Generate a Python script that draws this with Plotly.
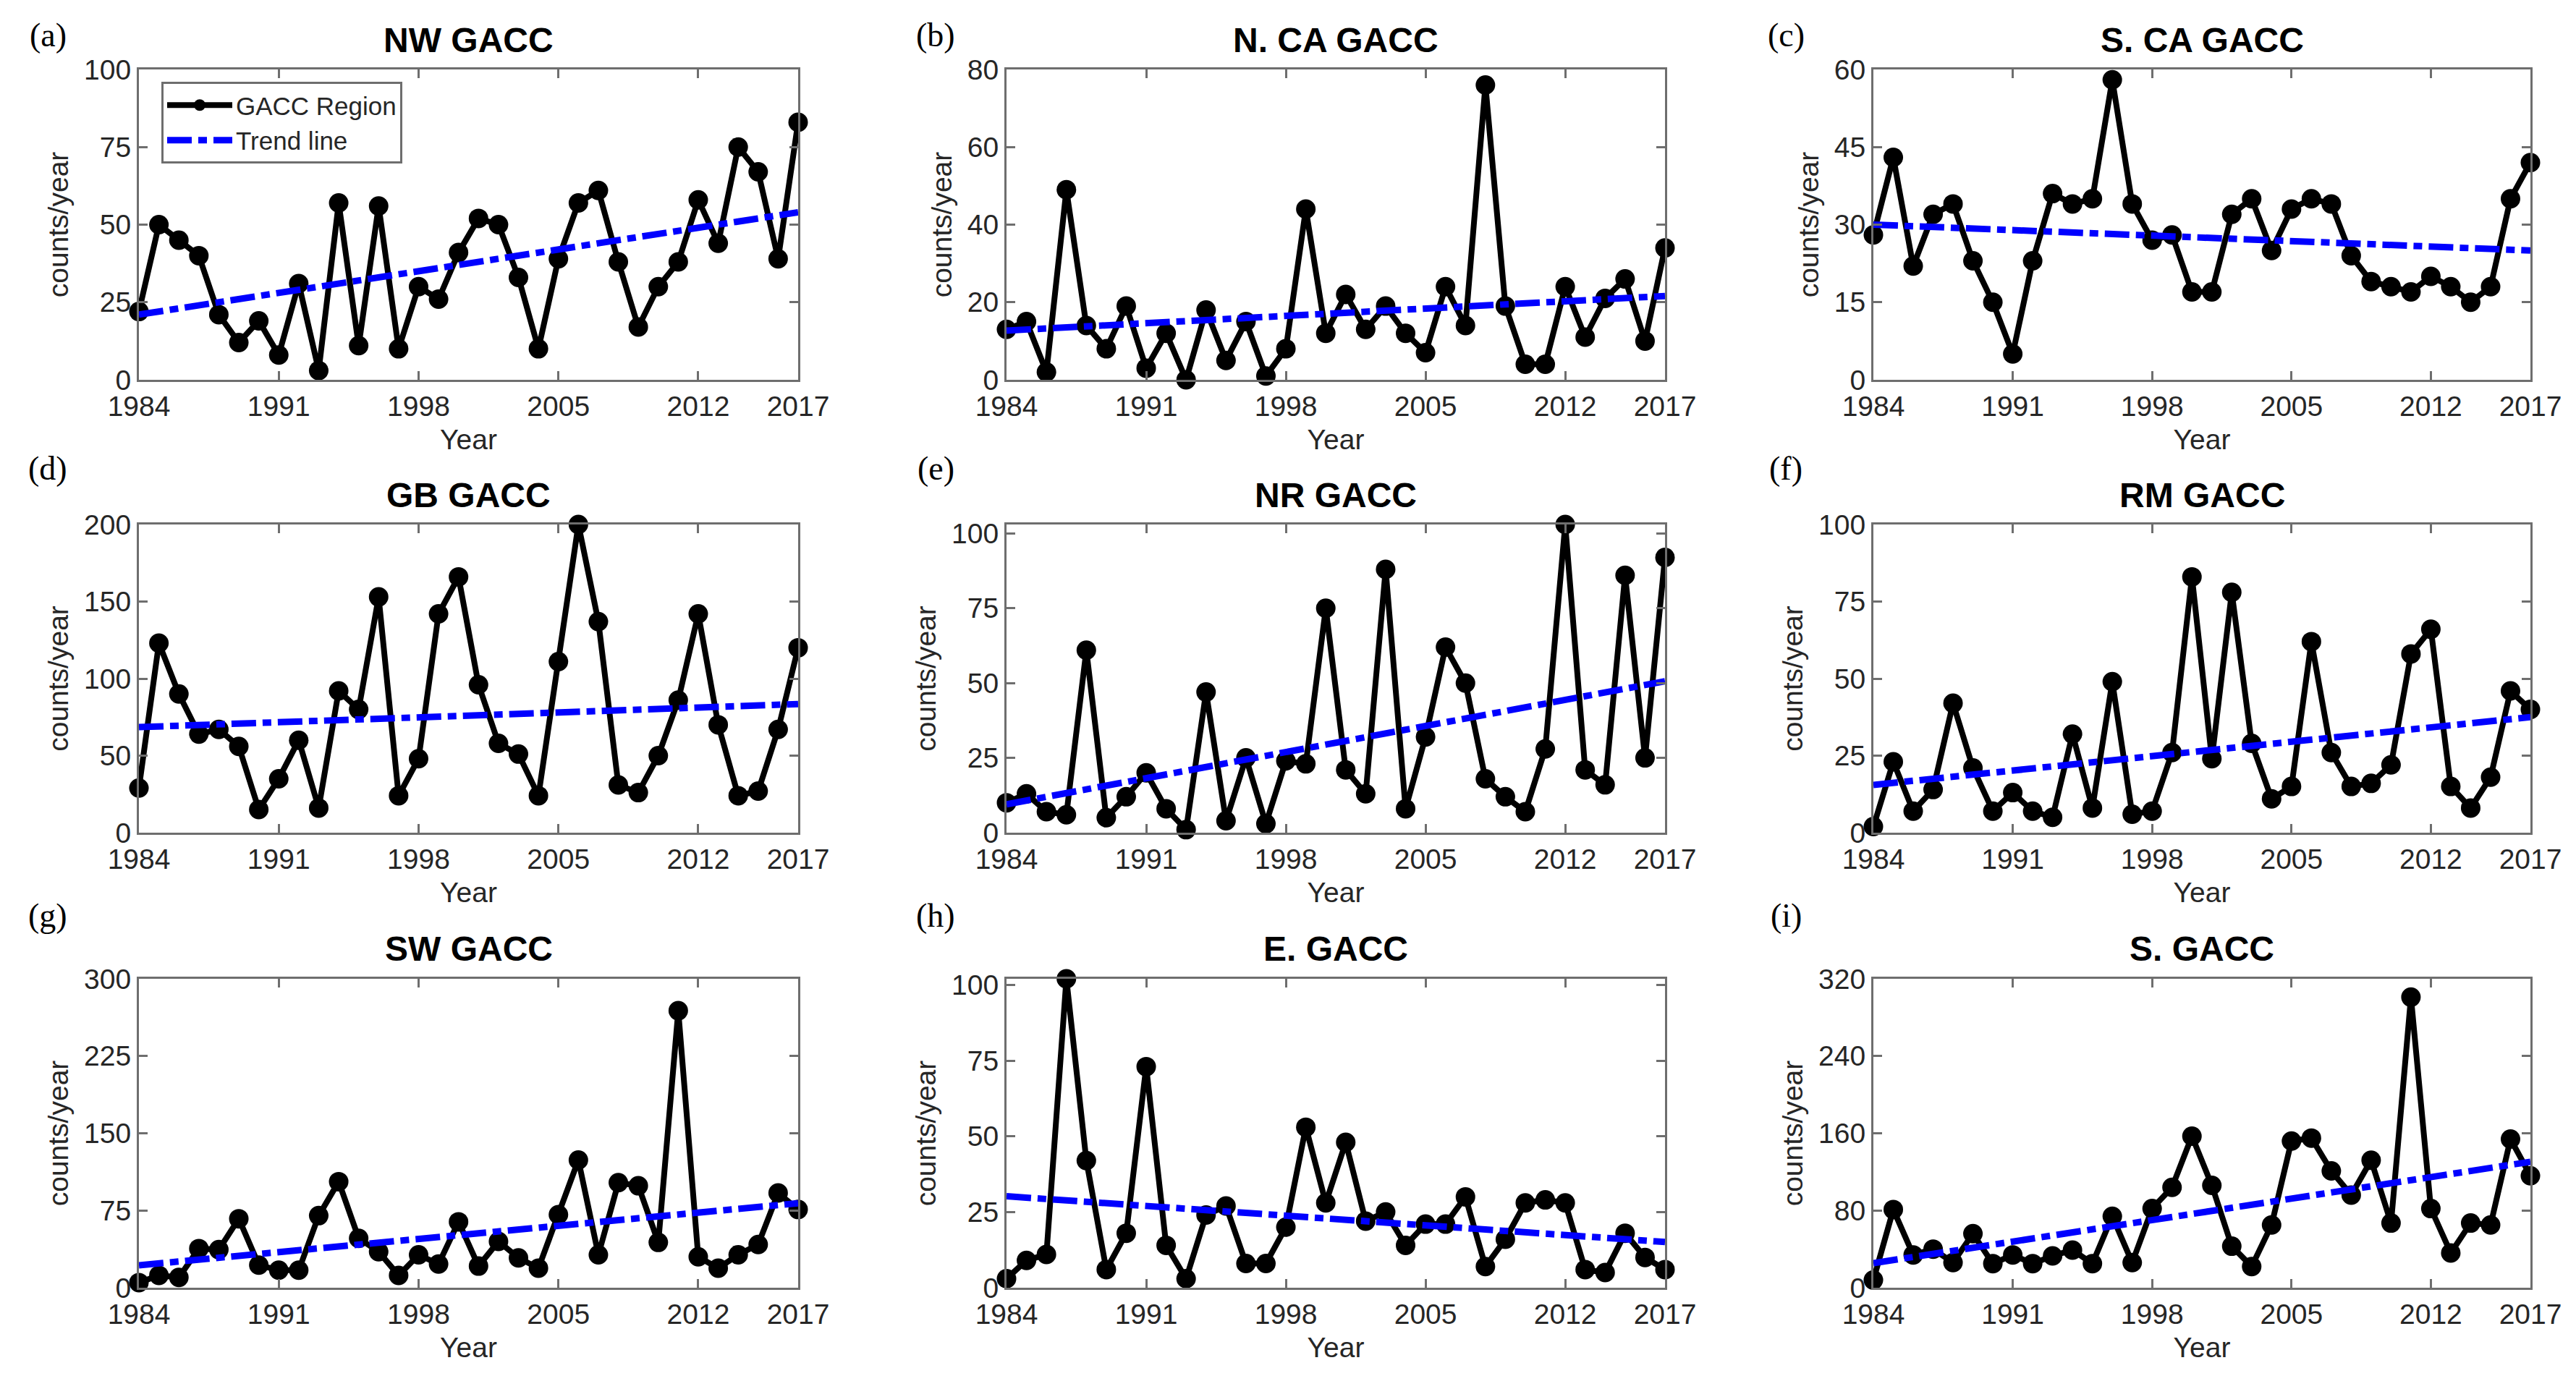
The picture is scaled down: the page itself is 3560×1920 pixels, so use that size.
import plotly.graph_objects as go

years = list(range(1984, 2018))
x_ticks = [1984, 1991, 1998, 2005, 2012, 2017]

titles = ["NW GACC", "N. CA GACC", "S. CA GACC",
          "GB GACC", "NR GACC", "RM GACC",
          "SW GACC", "E. GACC", "S. GACC"]
letters = ["(a)", "(b)", "(c)", "(d)", "(e)", "(f)", "(g)", "(h)", "(i)"]

nw = [22, 50, 45, 40, 21, 12, 19, 8, 31, 3, 57, 11, 56, 10, 30, 26, 41, 52,
      50, 33, 10, 39, 57, 61, 38, 17, 30, 38, 58, 44, 75, 67, 39, 83]
nca = [13, 15, 2, 49, 14, 8, 19, 3, 12, 0, 18, 5, 15, 1, 8, 44, 12, 22,
       13, 19, 12, 7, 24, 14, 76, 19, 4, 4, 24, 11, 21, 26, 10, 34]
sca = [28, 43, 22, 32, 34, 23, 15, 5, 23, 36, 34, 35, 58, 34, 27, 28, 17, 17,
       32, 35, 25, 33, 35, 34, 24, 19, 18, 17, 20, 18, 15, 18, 35, 42]
gb = [29, 123, 90, 64, 67, 56, 15, 35, 60, 16, 92, 80, 153, 24, 48, 142, 166, 96,
      58, 51, 24, 111, 200, 137, 31, 26, 50, 86, 142, 70, 24, 27, 67, 120]
nr = [10, 13, 7, 6, 61, 5, 12, 20, 8, 1, 47, 4, 25, 3, 24, 23, 75, 21,
      13, 88, 8, 32, 62, 50, 18, 12, 7, 28, 103, 21, 16, 86, 25, 92]
rm = [2, 23, 7, 14, 42, 21, 7, 13, 7, 5, 32, 8, 49, 6, 7, 26, 83, 24,
      78, 29, 11, 15, 62, 26, 15, 16, 22, 58, 66, 15, 8, 18, 46, 40]
sw = [5, 12, 10, 38, 37, 67, 22, 17, 17, 70, 103, 48, 35, 12, 32, 23, 64, 21,
      45, 29, 19, 71, 124, 32, 102, 99, 44, 269, 30, 19, 32, 42, 92, 76]
east = [3, 9, 11, 102, 42, 6, 18, 73, 14, 3, 24, 27, 8, 8, 20, 53, 28, 48,
        22, 25, 14, 21, 21, 30, 7, 16, 28, 29, 28, 6, 5, 18, 10, 6]
south = [8, 81, 34, 40, 26, 56, 25, 34, 25, 33, 39, 25, 74, 26, 82, 104, 157, 106,
         43, 22, 65, 152, 155, 121, 96, 132, 67, 301, 82, 36, 67, 65, 154, 116]

series = [nw, nca, sca, gb, nr, rm, sw, east, south]

trend_start = [21, 12.7, 30, 68.5, 9.5, 15.5, 21.8, 30.2, 25.5]
trend_end = [54, 21.6, 25, 83.5, 50.6, 37.5, 82.1, 15.1, 130.5]

y_max = [100, 80, 60, 200, 103, 100, 300, 102, 320]
y_ticks = [[0, 25, 50, 75, 100], [0, 20, 40, 60, 80], [0, 15, 30, 45, 60],
           [0, 50, 100, 150, 200], [0, 25, 50, 75, 100], [0, 25, 50, 75, 100],
           [0, 75, 150, 225, 300], [0, 25, 50, 75, 100], [0, 80, 160, 240, 320]]

W, H = 3560, 1920
col_px = [(184, 1095), (1383, 2293), (2581, 3489)]
row_px = [(88, 517), (717, 1143), (1345, 1772)]
title_y = [47, 676, 1303]
letter_y = [40, 640, 1257]
letter_x = [58, 1285, 2460]

AX = "#6e6e6e"
TXT = "#262626"
FONT = "Liberation Sans, Arial, sans-serif"

fig = go.Figure()
layout = dict(
    width=W, height=H,
    margin=dict(l=0, r=0, t=0, b=0, autoexpand=False),
    paper_bgcolor="white", plot_bgcolor="white",
    font=dict(family=FONT, color=TXT, size=39),
    showlegend=True,
    legend=dict(x=215 / W, y=1 - 105 / H, xanchor="left", yanchor="top",
                bgcolor="white", bordercolor=AX, borderwidth=3,
                font=dict(size=35, color=TXT, family=FONT),
                itemwidth=90, tracegroupgap=0),
)
annotations = []

for i, vals in enumerate(series):
    r, c = divmod(i, 3)
    x0, x1 = col_px[c]
    y0, y1 = row_px[r]
    xname = "x" if i == 0 else f"x{i + 1}"
    yname = "y" if i == 0 else f"y{i + 1}"
    xkey = "xaxis" if i == 0 else f"xaxis{i + 1}"
    ykey = "yaxis" if i == 0 else f"yaxis{i + 1}"

    fig.add_trace(go.Scatter(
        x=years, y=vals, mode="lines+markers", name="GACC Region",
        line=dict(color="black", width=8),
        marker=dict(color="black", size=27),
        cliponaxis=False, showlegend=(i == 0),
        xaxis=xname, yaxis=yname))
    fig.add_trace(go.Scatter(
        x=[years[0], years[-1]], y=[trend_start[i], trend_end[i]],
        mode="lines", name="Trend line",
        line=dict(color="#0000ff", width=9, dash="34px,9px,12px,9px"),
        showlegend=(i == 0), xaxis=xname, yaxis=yname))

    common = dict(showline=True, linecolor=AX, linewidth=3, mirror="allticks",
                  ticks="inside", ticklen=12, tickwidth=3, tickcolor=AX,
                  showgrid=False, zeroline=False, automargin=False,
                  tickfont=dict(size=39, color=TXT, family=FONT))
    layout[xkey] = dict(domain=[x0 / W, x1 / W], range=[1984, 2017],
                        tickvals=x_ticks, anchor=yname,
                        title=dict(text="Year", standoff=12,
                                   font=dict(size=39, color=TXT)),
                        **common)
    layout[ykey] = dict(domain=[1 - y1 / H, 1 - y0 / H], range=[0, y_max[i]],
                        tickvals=y_ticks[i], anchor=xname,
                        title=dict(text="counts/year", standoff=10,
                                   font=dict(size=39, color=TXT)),
                        **common)

    annotations.append(dict(
        text=f"<b>{titles[i]}</b>", xref="paper", yref="paper",
        x=(x0 + x1) / 2 / W, y=1 - title_y[r] / H,
        xanchor="center", yanchor="middle", showarrow=False,
        font=dict(size=48, color="black", family=FONT)))
    annotations.append(dict(
        text=letters[i], xref="paper", yref="paper",
        x=letter_x[c] / W, y=1 - letter_y[r] / H,
        xanchor="center", yanchor="middle", showarrow=False,
        font=dict(size=46, color="black",
                  family="Liberation Serif, Times New Roman, serif")))

layout["annotations"] = annotations
fig.update_layout(**layout)
fig.write_html("out.html")
